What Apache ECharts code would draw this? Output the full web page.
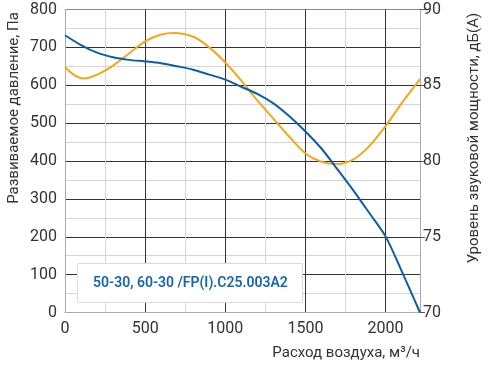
<!DOCTYPE html>
<html><head><meta charset="utf-8">
<script src="https://cdn.jsdelivr.net/npm/echarts@6/dist/echarts.min.js"></script>
<style>html,body{margin:0;padding:0;background:#fff}#c{width:494px;height:371px}</style>
</head><body><div id="c"></div>
<script>
const pressureFlow = [0, 100, 200, 300, 400, 500, 600, 700, 800, 900, 1000, 1100, 1200, 1300, 1400, 1500, 1600, 1700, 1800, 1900, 2000, 2100, 2215];
const pressure = [732, 706, 686, 674, 667, 663, 658, 650, 641, 628, 615, 596, 577, 552, 518, 478, 433, 378, 322, 262, 201, 110, 0];
const soundFlow = [0, 60, 120, 200, 300, 400, 500, 600, 680, 800, 900, 1000, 1100, 1200, 1300, 1400, 1500, 1600, 1700, 1800, 1900, 2000, 2100, 2215];
const soundPower = [86.2, 85.65, 85.45, 85.7, 86.3, 87.1, 87.9, 88.35, 88.45, 88.2, 87.5, 86.5, 85.3, 84.0, 82.8, 81.6, 80.5, 79.95, 79.8, 80.1, 81.0, 82.3, 83.8, 85.4];
const xTicks = [0, 500, 1000, 1500, 2000];
const xGridLines = [0, 250, 500, 750, 1000, 1250, 1500, 1750, 2000];
const leftTicks = [0, 100, 200, 300, 400, 500, 600, 700, 800];
const yGridLines = [0, 50, 100, 150, 200, 250, 300, 350, 400, 450, 500, 550, 600, 650, 700, 750, 800];
const rightTicks = [70, 75, 80, 85, 90];
const legendLabel = '50-30, 60-30 /FP(I).C25.003A2';
const xName = 'Расход воздуха, м³/ч';
const yName = 'Развиваемое давление, Па';
const y2Name = 'Уровень звуковой мощности, дБ(A)';

const FONT = 'Roboto';
const X_MAX = 2215;
const Y_MAX = 800;
const DARK = '#333';
const LIGHT = '#d6d6d6';
const xLineColors = xGridLines.map(v => xTicks.includes(v) ? DARK : LIGHT);
const yLineColors = yGridLines.map(v => v === Y_MAX ? '#8a8a8a' : (leftTicks.includes(v) ? DARK : LIGHT));
const chart = echarts.init(document.getElementById('c'), null, {renderer: 'canvas'});
chart.setOption({
  animation: false,
  grid: {left: 65, right: 74, top: 9.5, bottom: 58.5, containLabel: false},
  xAxis: [{
    type: 'value', min: 0, max: X_MAX, interval: 250, z: 3,
    axisLine: {show: true, lineStyle: {color: '#aaa', width: 1}},
    axisTick: {show: false},
    axisLabel: {show: true, color: '#333', fontSize: 16, fontFamily: FONT, margin: 8, showMaxLabel: false,
      hideOverlap: false, formatter: v => xTicks.includes(v) ? String(v) : ''},
    splitLine: {show: true, showMaxLine: false, lineStyle: {color: xLineColors, width: 1}}
  }],
  yAxis: [{
    type: 'value', min: 0, max: Y_MAX, interval: 50, position: 'left', z: 3,
    axisLine: {show: true, lineStyle: {color: '#aaa'}},
    axisTick: {show: false},
    axisLabel: {color: '#333', fontSize: 16, fontFamily: FONT, margin: 8,
      formatter: v => leftTicks.includes(v) ? String(v) : ''},
    splitLine: {show: true, lineStyle: {color: yLineColors, width: 1}}
  }, {
    type: 'value', min: 70, max: 90, interval: 5, position: 'right', z: 3,
    axisLine: {show: true, lineStyle: {color: '#aaa'}},
    axisTick: {show: true, inside: false, length: 5, lineStyle: {color: '#555'}},
    axisLabel: {color: '#333', fontSize: 16, fontFamily: FONT, margin: 3,
      formatter: v => rightTicks.includes(v) ? String(v) : ''},
    splitLine: {show: false}
  }],
  series: [{
    type: 'line', name: 'sound', xAxisIndex: 0, yAxisIndex: 1, smooth: 0.3, symbol: 'none', z: 5,
    lineStyle: {color: '#f5a61c', width: 2},
    data: soundFlow.map((f, i) => [f, soundPower[i]])
  }, {
    type: 'line', name: 'pressure', xAxisIndex: 0, yAxisIndex: 0, smooth: 0.3, symbol: 'none', z: 6,
    lineStyle: {color: '#0f5ca8', width: 2},
    data: pressureFlow.map((f, i) => [f, pressure[i]])
  }],
  graphic: [
    {type: 'rect', shape: {x: 77.5, y: 263.5, width: 225, height: 39}, style: {fill: '#fff', stroke: '#dcdcdc', lineWidth: 1}, z: 100},
    {type: 'text', x: 93, y: 283, z: 101, style: {text: legendLabel, fill: '#1565b0', font: '600 14px ' + FONT, verticalAlign: 'middle', align: 'left'}},
    {type: 'text', x: 420, y: 353, z: 101, style: {text: xName, fill: '#333', font: '15px ' + FONT, verticalAlign: 'middle', align: 'right'}},
    {type: 'text', x: 14, y: 108, rotation: Math.PI / 2, z: 101, style: {text: yName, fill: '#333', font: '15px ' + FONT, verticalAlign: 'middle', align: 'center'}},
    {type: 'text', x: 474, y: 138, rotation: Math.PI / 2, z: 101, style: {text: y2Name, fill: '#333', font: '15px ' + FONT, verticalAlign: 'middle', align: 'center'}}
  ]
});
</script>
</body></html>
